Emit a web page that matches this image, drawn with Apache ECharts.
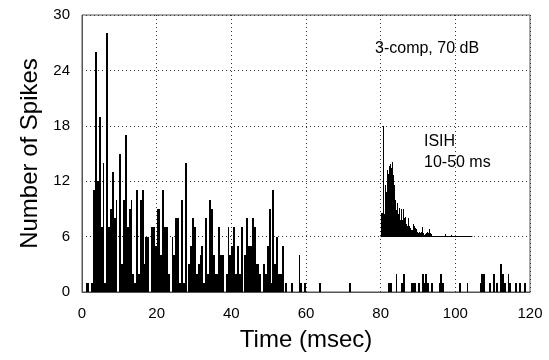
<!DOCTYPE html>
<html>
<head>
<meta charset="utf-8">
<script src="https://cdn.jsdelivr.net/npm/echarts@6/dist/echarts.min.js"></script>
<style>
	html, body { margin: 0; padding: 0; background: #fff; }
	#charts { width: 549px; height: 360px; }
</style>
</head>
<body>
<div id="charts"></div>
<script>
//PSTH: spike counts in 0.5 ms bins, starting at 0 ms
var g_binWidth = 0.5;
var spikeCounts = [
	0, 0, 1, 1, 0, 1, 11, 26, 12, 19, 7, 14, 1, 28, 7, 9, 13, 8, 10, 0,
	15, 3, 10, 17, 7, 9, 10, 2, 1, 11, 2, 10, 11, 3, 6, 6, 0, 7, 7, 5,
	9, 9, 4, 11, 7, 7, 2, 0, 6, 4, 8, 8, 1, 10, 1, 14, 0, 3, 5, 8,
	7, 2, 3, 4, 5, 1, 8, 2, 10, 9, 4, 2, 2, 7, 4, 4, 0, 2, 7, 4,
	5, 7, 2, 5, 2, 7, 0, 4, 8, 5, 5, 8, 7, 3, 3, 2, 0, 3, 2, 5,
	9, 1, 11, 3, 6, 2, 2, 5, 0, 1, 0, 0, 1, 0, 0, 0, 4, 1, 0, 1,
	0, 0, 0, 0, 0, 0, 0, 1, 0, 0, 0, 0, 0, 0, 0, 0, 0, 0, 0, 0,
	0, 0, 0, 1, 0, 0, 0, 0, 0, 0, 0, 0, 0, 0, 0, 0, 0, 0, 0, 0,
	0, 0, 0, 0, 1, 1, 0, 0, 2, 0, 0, 1, 2, 0, 0, 0, 1, 1, 1, 0,
	1, 0, 2, 1, 2, 1, 0, 1, 0, 0, 0, 1, 2, 1, 0, 0, 0, 0, 0, 0,
	0, 0, 1, 0, 0, 0, 1, 0, 0, 0, 0, 0, 0, 1, 2, 2, 0, 0, 1, 0,
	2, 0, 1, 0, 3, 2, 1, 0, 2, 1, 0, 0, 1, 0, 1, 0, 0, 1, 0, 0
];
//ISIH inset: counts above its own baseline (baseline sits at 6 on the main axis)
var isihCounts = [
	2.6, 2.6, 12, 2.5, 5.6, 4.8, 7.2, 6.8, 7.6, 7.9, 7.4, 8.1, 6.7, 5.6, 4.0, 2.9,
	3.6, 2.5, 3.1, 1.8, 3.0, 1.8, 3.0, 2.0, 2.1, 1.4, 1.2, 2.0, 1.1, 0.9, 0.7, 0.7,
	1.4, 1.1, 0.9, 0.8, 0.5, 0.4, 0.5, 0.4, 0.5, 1.0, 0.4, 0.2, 0.3, 0.4, 0.5, 0.4,
	0.8, 0.4, 0.3, 0.1, 0.1, 0.1, 0.1, 0.1, 0.1, 0, 0, 0, 0, 0, 0, 0, 0.3, 0,
	0, 0, 0, 0, 0.2, 0, 0, 0, 0, 0, 0, 0, 0, 0, 0, 0, 0, 0, 0, 0, 0, 0, 0, 0
];
var xTicks = [0, 20, 40, 60, 80, 100, 120];
var yTicks = [0, 6, 12, 18, 24, 30];
var g_font = 'Liberation Sans, Arial, Helvetica, sans-serif';

initCharts();

//矩形柱子，对齐到整像素
function renderBin(params, api){
	var p0 = api.coord([api.value(0), api.value(2)]);
	var p1 = api.coord([api.value(1), 0]);
	var x0 = Math.round(p0[0]), x1 = Math.round(p1[0]);
	var y0 = Math.round(p0[1]), y1 = Math.round(p1[1]);
	if(y1 - y0 <= 0) return;
	return {
		type: 'rect',
		shape: { x: x0, y: y0, width: Math.max(1, x1 - x0), height: y1 - y0 },
		style: { fill: '#000' }
	};
}

function initCharts(){
	var charts = echarts.init(document.getElementById('charts'), null, {renderer: 'canvas'});
	var mainData = [], insetData = [];
	for(var i = 0; i < spikeCounts.length; i++){
		mainData.push([i * g_binWidth, (i + 1) * g_binWidth, spikeCounts[i]]);
	}
	for(var j = 0; j < isihCounts.length; j++){
		insetData.push([j, j + 1, isihCounts[j]]);
	}
	var gridLine = { show: true, lineStyle: { type: [1, 3], color: '#333', width: 1 } };
	var option = {
		animation: false,
		grid: [
			{ left: 82, right: 19, top: 15, bottom: 68, show: true, borderColor: '#555', borderWidth: 1, backgroundColor: 'transparent' },
			{ left: 381, width: 91, top: 125.8, height: 110.8 }
		],
		xAxis: [
			{
				gridIndex: 0, type: 'value', min: xTicks[0], max: xTicks[xTicks.length - 1], interval: 20,
				name: 'Time (msec)', nameLocation: 'middle', nameGap: 36,
				nameTextStyle: { fontSize: 24, color: '#000', fontFamily: g_font },
				axisLine: { show: true, lineStyle: { color: '#555', width: 1 } },
				axisTick: { show: false },
				axisLabel: { fontSize: 15, color: '#000', fontFamily: g_font, margin: 14 },
				splitLine: gridLine
			},
			{
				gridIndex: 1, type: 'value', min: 0, max: 91,
				axisLine: { show: true, onZero: false, lineStyle: { color: '#000', width: 1 } },
				axisTick: { show: false }, axisLabel: { show: false }, splitLine: { show: false }
			}
		],
		yAxis: [
			{
				gridIndex: 0, type: 'value', min: yTicks[0], max: yTicks[yTicks.length - 1], interval: 6,
				name: 'Number of Spikes', nameLocation: 'middle', nameGap: 38,
				nameTextStyle: { fontSize: 24, color: '#000', fontFamily: g_font },
				axisLine: { show: true, lineStyle: { color: '#555', width: 1 } },
				axisTick: { show: false },
				axisLabel: { fontSize: 15, color: '#000', fontFamily: g_font, margin: 12 },
				splitLine: gridLine
			},
			{
				gridIndex: 1, type: 'value', min: 0, max: 12,
				axisLine: { show: false }, axisTick: { show: false }, axisLabel: { show: false }, splitLine: { show: false }
			}
		],
		graphic: [
			{ type: 'text', left: 375, top: 41, style: { text: '3-comp, 70 dB', font: '16px ' + g_font, fill: '#000' } },
			{ type: 'text', left: 424, top: 134, style: { text: 'ISIH', font: '16px ' + g_font, fill: '#000' } },
			{ type: 'text', left: 424, top: 155, style: { text: '10-50 ms', font: '16px ' + g_font, fill: '#000' } }
		],
		series: [
			{
				name: 'PSTH', type: 'custom', xAxisIndex: 0, yAxisIndex: 0,
				renderItem: renderBin, encode: { x: [0, 1], y: 2 }, data: mainData
			},
			{
				name: 'ISIH', type: 'custom', xAxisIndex: 1, yAxisIndex: 1,
				renderItem: renderBin, encode: { x: [0, 1], y: 2 }, data: insetData
			}
		]
	};
	charts.setOption(option);
}
</script>
</body>
</html>
